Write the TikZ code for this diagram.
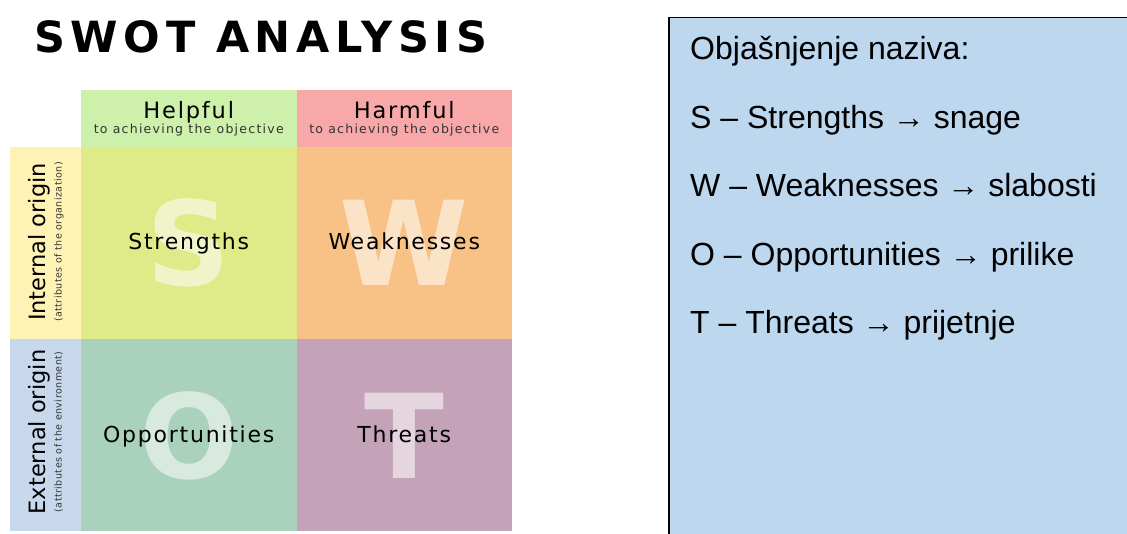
\documentclass[tikz,border=0pt]{standalone}
\usepackage{fontspec}
\newfontfamily\swotsans[LetterSpace=8]{DejaVu Sans}
\newfontfamily\swotsmall[LetterSpace=10]{DejaVu Sans}
\newfontfamily\swotside{DejaVu Sans}
\newfontfamily\swotnote[LetterSpace=5]{DejaVu Sans}
\newfontfamily\swottitle[LetterSpace=13]{DejaVu Sans}
\newfontfamily\legendfont{Liberation Sans}
\usetikzlibrary{positioning}
\definecolor{helpfill}{HTML}{CDF0AA}
\definecolor{harmfill}{HTML}{F8A8A8}
\definecolor{infill}{HTML}{FFF2B5}
\definecolor{exfill}{HTML}{C7D8EC}
\definecolor{sfill}{HTML}{DFEA88}
\definecolor{wfill}{HTML}{F8C287}
\definecolor{ofill}{HTML}{A9D1BC}
\definecolor{tfill}{HTML}{C4A3B9}
\definecolor{legendfill}{HTML}{BDD7EE}

\begin{document}
\begin{tikzpicture}[x=1pt,y=-1pt,node distance=0pt,
 cell/.style={inner sep=0pt,outer sep=0pt,minimum width=215.5pt,minimum height=192pt},
 headcell/.style={inner sep=0pt,outer sep=0pt,minimum width=215.5pt,minimum height=57pt},
 sidecell/.style={inner sep=0pt,outer sep=0pt,minimum width=71pt,minimum height=192pt},
 bigletter/.style={font=\swotside\bfseries\fontsize{117}{117}\selectfont,text=white,text opacity=.55,anchor=base,inner sep=0pt},
 word/.style={font=\swotsans\fontsize{22}{26}\selectfont,anchor=base,inner sep=0pt},
 headtxt/.style={font=\swotsans\fontsize{22.5}{26}\selectfont,anchor=base,inner sep=0pt},
 captxt/.style={font=\swotsmall\fontsize{12.5}{14}\selectfont,text=black!80,anchor=base,inner sep=0pt},
 sidetxt/.style={font=\swotside\fontsize{22.5}{26}\selectfont,rotate=90,anchor=base,inner sep=0pt},
 notetxt/.style={font=\swotnote\fontsize{9.5}{11}\selectfont,text=black!80,rotate=90,anchor=base,inner sep=0pt},
 legendbox/.style={draw,line width=1.5pt,fill=legendfill,minimum width=480pt,minimum height=540pt},
 legendtxt/.style={font=\legendfont\fontsize{32}{38}\selectfont,anchor=base west,inner sep=0pt}]
\useasboundingbox (0,0) rectangle (1127,534);
\clip (0,0) rectangle (1127,534);
% title
\node[font=\swottitle\bfseries\fontsize{43}{48}\selectfont,anchor=base,inner sep=0pt] (title) at (261,53) {SWOT ANALYSIS};
% quadrants
\node[cell,fill=sfill,anchor=north west] (str) at (81,147) {};
\node[cell,fill=wfill,right=of str] (weak) {};
\node[cell,fill=ofill,below=of str] (opp) {};
\node[cell,fill=tfill,right=of opp] (thr) {};
% headers and sides
\node[headcell,fill=helpfill,above=of str] (helpful) {};
\node[headcell,fill=harmfill,above=of weak] (harmful) {};
\node[sidecell,fill=infill,left=of str] (internal) {};
\node[sidecell,fill=exfill,left=of opp] (external) {};
% big letters
\node[bigletter] (s-big) at ([yshift=-43pt]str.center) {S};
\node[bigletter] (w-big) at ([yshift=-43pt]weak.center) {W};
\node[bigletter] (o-big) at ([yshift=-43pt]opp.center) {O};
\node[bigletter] (t-big) at ([yshift=-43pt]thr.center) {T};
% quadrant names
\node[word] (s-name) at ([yshift=-7pt]str.center) {Strengths};
\node[word] (w-name) at ([yshift=-7pt]weak.center) {Weaknesses};
\node[word] (o-name) at ([yshift=-7pt]opp.center) {Opportunities};
\node[word] (t-name) at ([yshift=-7pt]thr.center) {Threats};
% header texts
\node[headtxt] (helpful-t) at (helpful.center) {Helpful};
\node[captxt] (helpful-c) at ([yshift=-15pt]helpful.center) {to achieving the objective};
\node[headtxt] (harmful-t) at (harmful.center) {Harmful};
\node[captxt] (harmful-c) at ([yshift=-15pt]harmful.center) {to achieving the objective};
% side texts
\node[sidetxt] (internal-t) at ([xshift=-0.5pt,yshift=1pt]internal.center) {Internal origin};
\node[notetxt] (internal-c) at ([xshift=16pt,yshift=1pt]internal.center) {(attributes of the organization)};
\node[sidetxt] (external-t) at ([xshift=-0.5pt,yshift=3pt]external.center) {External origin};
\node[notetxt] (external-c) at ([xshift=16pt,yshift=3pt]external.center) {(attributes of the environment)};
% legend
\node[legendbox,anchor=north west] (legend) at (668,17) {};
\node[legendtxt] (l-head) at (690,60) {Objašnjenje naziva:};
\node[legendtxt] (l-s) at (690,128.5) {S – Strengths → snage};
\node[legendtxt] (l-w) at (690,197) {W – Weaknesses → slabosti};
\node[legendtxt] (l-o) at (690,265.5) {O – Opportunities → prilike};
\node[legendtxt] (l-t) at (690,334) {T – Threats → prijetnje};
\end{tikzpicture}
\end{document}
